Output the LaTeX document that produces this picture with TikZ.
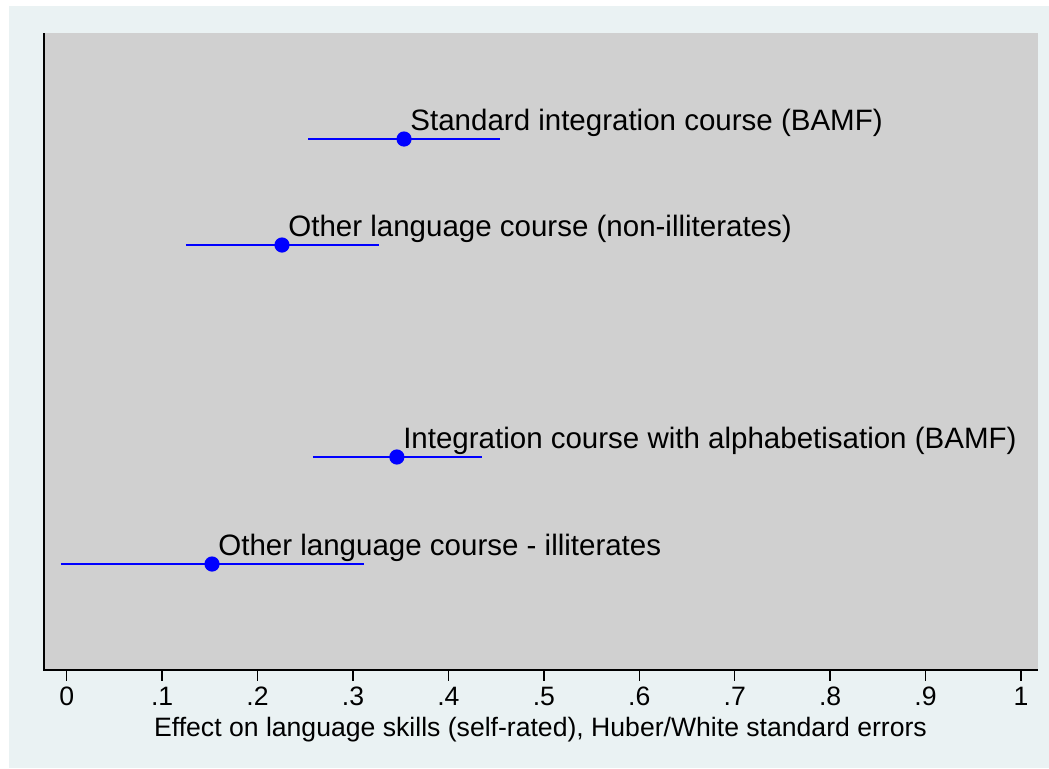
\documentclass[tikz,border=0pt]{standalone}
\usepackage{fontspec}
\setmainfont{Liberation Sans}
\definecolor{outerbg}{RGB}{234,242,243}
\definecolor{plotbg}{RGB}{208,208,208}
\tikzset{
    ci/.style={blue, line width=1.2pt},
    est/.style={circle, fill=blue, inner sep=0pt, minimum size=7.6pt},
    lab/.style={anchor=base west, inner sep=0pt, font=\fontsize{14.75}{17}\selectfont},
    axlab/.style={anchor=base, inner sep=0pt, font=\fontsize{13.3}{15}\selectfont},
    declare function={px(\v)=66.7+954.3*\v;}
}
\begin{document}
\begin{tikzpicture}[x=0.5pt, y=-0.5pt]
        \useasboundingbox (0,0) rectangle (1049,768);
        \fill[outerbg] (9,6) rectangle (1049,768);
        \fill[plotbg] (43.5,33) rectangle (1038,670);
        % axes
        \draw[line width=1pt] (43.5,33) -- (43.5,670) -- (1038,670);
        \foreach \v/\t in {0/0,1/.1,2/.2,3/.3,4/.4,5/.5,6/.6,7/.7,8/.8,9/.9,10/1}
            \draw[line width=0.7pt] ({px(\v/10)},670) -- ({px(\v/10)},681)
                node[axlab] (tick\v) at ({px(\v/10)},705) {\t};
        \node[axlab] (xtitle) at (540.5,736.7) {Effect on language skills (self-rated), Huber/White standard errors};
        % estimates and confidence intervals
        \draw[ci] ({px(0.2529)},139) -- ({px(0.4541)},139);
        \node[est] (std) at ({px(0.3535)},139) {};
        \node[lab] (stdlab) at ([shift={(6,-9)}]std.center) {Standard integration course (BAMF)};
        \draw[ci] ({px(0.125)},245) -- ({px(0.327)},245);
        \node[est] (oth) at ({px(0.2256)},245) {};
        \node[lab] (othlab) at ([shift={(6,-9)}]oth.center) {Other language course (non-illiterates)};
        \draw[ci] ({px(0.258)},457) -- ({px(0.435)},457);
        \node[est] (alpha) at ({px(0.346)},457) {};
        \node[lab] (alphalab) at ([shift={(6,-9)}]alpha.center) {Integration course with alphabetisation (BAMF)};
        \draw[ci] ({px(-0.006)},564) -- ({px(0.3117)},564);
        \node[est] (ill) at ({px(0.1523)},564) {};
        \node[lab] (illlab) at ([shift={(6,-9)}]ill.center) {Other language course - illiterates};
    \end{tikzpicture}
\end{document}
